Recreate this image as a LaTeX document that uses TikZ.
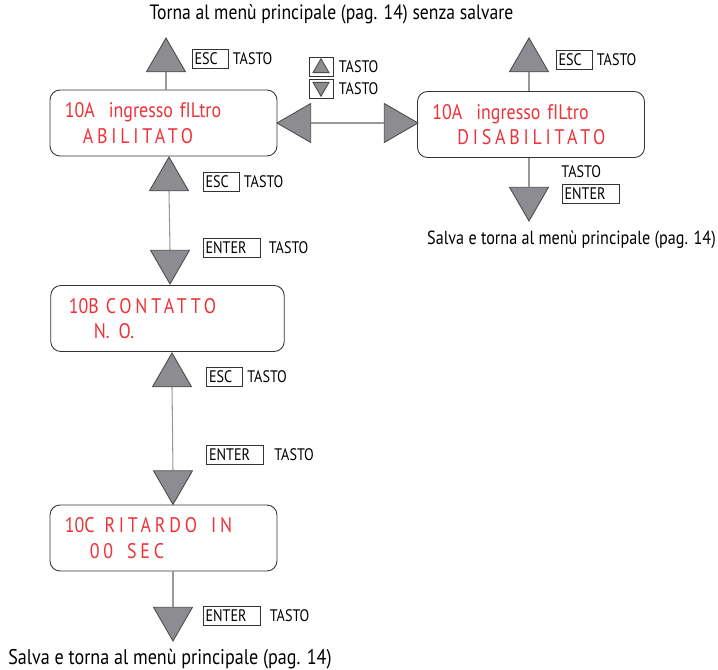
\documentclass[tikz,border=0pt]{standalone}
\usepackage{fontspec}
\setmainfont{PT Sans}[FakeStretch=0.85]
\usetikzlibrary{shapes.geometric,positioning}
\definecolor{lcdred}{RGB}{238,50,55}
\definecolor{trigray}{RGB}{140,140,145}
\newcommand{\lcdsp}[1]{{\addfontfeature{LetterSpace=18}#1}}

\begin{document}
\begin{tikzpicture}[x=0.02cm,y=-0.02cm,
		lcd/.style={draw=black!80,line width=0.5pt,rounded corners=0.2cm,minimum width=4.54cm,minimum height=1.32cm,
			text width=3.95cm,inner xsep=0.28cm,align=left,text=lcdred,font=\fontsize{12}{14.5}\selectfont},
		tri/.style={regular polygon,regular polygon sides=3,minimum size=0.9cm,inner sep=0pt,fill=trigray,draw=black!70,line width=0.5pt},
		mini/.style={tri,minimum size=0.37cm},
		link/.style={draw=black!40,line width=0.6pt},
		keyesc/.style={draw=black!80,line width=0.5pt,text width=0.62cm,inner xsep=0.05cm,inner ysep=0pt,minimum height=0.38cm,font=\fontsize{9.5}{10}\selectfont},
		keyenter/.style={keyesc,text width=1.04cm},
		keyarr/.style={draw=black!80,line width=0.5pt,minimum width=0.48cm,minimum height=0.38cm,inner sep=0pt},
		tasto/.style={inner sep=0pt,font=\fontsize{9.5}{10}\selectfont},
		note/.style={inner sep=0pt,font=\fontsize{11.8}{13}\selectfont}]
	\useasboundingbox (0,0) rectangle (718,670);

	\node[note] (top) at (331.5,14) {Torna al menù principale (pag. 14) senza salvare};

	\node[lcd] (abil) at (163.5,123) {10A\ \ ingresso fILtro\\\hspace*{0.36cm}\lcdsp{ABILITATO}};
	\node[lcd,inner xsep=0.22cm] (disabil) at (531,124.5) {10A\ \ ingresso fILtro\\\hspace*{0.5cm}\lcdsp{DISABILITATO}};
	\node[lcd,inner xsep=0.36cm] (contatto) at (167.5,318.5) {10B \lcdsp{CONTATTO}\\\hspace*{0.5cm}N.\hspace{0.18cm}O.};
	\node[lcd,inner xsep=0.26cm] (ritardo) at (163.5,538) {10C\hspace{0.2cm}\lcdsp{RITARDO}\ \ \lcdsp{IN}\\\hspace*{0.5cm}\lcdsp{00\ \ SEC}};

	\node[tri] (escA) at (166,60.5) {};
	\node[tri] (escD) at (529,60.5) {};
	\node[tri,shape border rotate=90] (toA) at (299.5,123) {};
	\node[tri,shape border rotate=-90] (toD) at (395.5,123) {};
	\node[tri,shape border rotate=180] (saveD) at (529,198.5) {};
	\node[tri] (escB) at (169,179.5) {};
	\node[tri,shape border rotate=180] (toB) at (170,261.5) {};
	\node[tri] (escC) at (172,375.5) {};
	\node[tri,shape border rotate=180] (toC) at (173,482) {};
	\node[tri,shape border rotate=180] (saveC) at (173,618.5) {};

	\draw[link] (escA.south) -- (escA.south |- abil.north);
	\draw[link] (escD.south) -- (escD.south |- disabil.north);
	\draw[link] (toA.east) -- (toD.west);
	\draw[link] (saveD.north) -- (saveD.north |- disabil.south);
	\draw[link] (escB.south) -- (toB.north);
	\draw[link] (escC.south) -- (toC.north);
	\draw[link] (saveC.north) -- (saveC.north |- ritardo.south);

	\node[keyesc] (k1) at (210,59) {ESC};
	\node[tasto,right=0.08cm of k1] (t1) {TASTO};
	\node[keyesc] (k2) at (574,59.5) {ESC};
	\node[tasto,right=0.08cm of k2] (t2) {TASTO};
	\node[keyesc] (k3) at (221,181.5) {ESC};
	\node[tasto,right=0.08cm of k3] (t3) {TASTO};
	\node[keyenter] (k4) at (231.5,247.5) {ENTER};
	\node[tasto,right=0.16cm of k4] (t4) {TASTO};
	\node[keyesc] (k5) at (224.5,376.5) {ESC};
	\node[tasto,right=0.08cm of k5] (t5) {TASTO};
	\node[keyenter] (k6) at (235,455) {ENTER};
	\node[tasto,right=0.2cm of k6] (t6) {TASTO};
	\node[keyenter] (k7) at (231.5,615.5) {ENTER};
	\node[tasto,right=0.18cm of k7] (t7) {TASTO};
	\node[keyenter] (k8) at (590.5,193.5) {ENTER};
	\node[tasto,anchor=west] (t8) at (561,172) {TASTO};

	\node[keyarr] (up) at (321,66.5) {};
	\node[mini] (upm) at (321,68) {};
	\node[tasto,right=0.1cm of up] (t9) {TASTO};
	\node[keyarr] (dn) at (321,88.5) {};
	\node[mini,shape border rotate=180] (dnm) at (321,87) {};
	\node[tasto,right=0.1cm of dn] (t10) {TASTO};

	\node[note,font=\fontsize{10.8}{12}\selectfont] (saveDtxt) at (571.5,240) {Salva e torna al menù principale (pag. 14)};
	\node[note,font=\fontsize{12.1}{13}\selectfont] (saveCtxt) at (170,659) {Salva e torna al menù principale (pag. 14)};
\end{tikzpicture}
\end{document}
